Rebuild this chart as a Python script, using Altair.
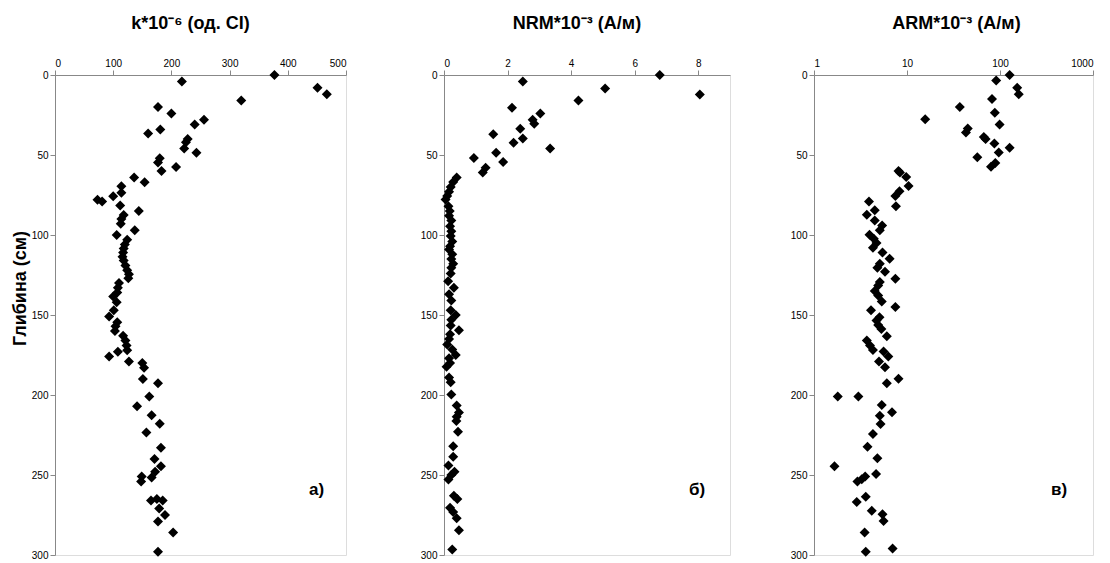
import altair as alt
import pandas as pd

# ---------------- data ----------------
k_depth = [0, 4, 8, 12, 16, 20, 24, 28, 31, 34, 36.5, 40, 42, 46, 48.6, 52, 54.7, 57.5, 60, 64, 67,
           69.5, 73.6, 75.8, 78, 79, 81.5, 85, 87.5, 90, 93, 97, 100, 103, 106, 108.5, 111, 113.6, 116,
           119, 122, 124.5, 127, 130, 133, 136, 138.5, 142, 147, 151, 154.6, 157, 160, 163, 166, 169,
           172, 173, 176, 179, 180, 183, 190, 192.6, 201, 207, 212.7, 218, 223.5, 233, 240, 244.6, 248,
           251.5, 251, 254, 266, 265, 266, 271, 275, 279, 286, 298]
k_value = [377, 218, 451, 467, 320, 177, 200, 256, 240, 181, 160, 228, 225, 222, 243, 180, 177, 208, 183,
           136, 154, 114, 114, 100, 73, 81, 112, 144, 118, 114, 113, 137, 106, 124, 120, 118, 117, 116,
           118, 121, 124, 127, 126, 110, 108, 107, 100, 106, 101, 93, 107, 104, 103, 117, 121, 123, 124,
           108, 93, 127, 150, 153, 151, 177, 162, 141, 166, 180, 157, 182, 171, 182, 172, 166, 149, 148,
           165, 175, 185, 179, 189, 177, 203, 177]

nrm_depth = [0, 4, 8.4, 12.2, 16, 20.5, 24, 28, 30.5, 33.6, 37, 39.7, 42.4, 46, 48.6, 51.8, 54.3, 58, 61,
             64, 66.8, 70, 73, 75.7, 77.8, 82, 85, 88, 91, 94.5, 97.6, 100.7, 104, 107, 109, 112, 115,
             118, 120.5, 124, 128.9, 133, 137, 141, 147, 150, 153, 156.5, 159.5, 162, 165, 168.5, 171.5,
             175, 177, 180, 182.4, 189, 192, 199.7, 206.6, 211, 213.6, 216.3, 223, 232, 238.6, 244, 248,
             250, 252.8, 263, 265, 270.5, 273.2, 277, 284.6, 296.5]
nrm_value = [6.79, 2.48, 5.07, 8.05, 4.23, 2.14, 3.03, 2.79, 2.84, 2.40, 1.55, 2.48, 2.19, 3.34, 1.64,
             0.94, 1.86, 1.31, 1.22, 0.40, 0.29, 0.21, 0.16, 0.10, 0.05, 0.14, 0.18, 0.16, 0.23, 0.19,
             0.23, 0.21, 0.26, 0.19, 0.16, 0.26, 0.23, 0.29, 0.23, 0.21, 0.13, 0.31, 0.16, 0.23, 0.21,
             0.37, 0.23, 0.21, 0.47, 0.19, 0.16, 0.10, 0.26, 0.37, 0.16, 0.19, 0.08, 0.16, 0.21, 0.23,
             0.40, 0.47, 0.40, 0.39, 0.44, 0.29, 0.29, 0.14, 0.33, 0.23, 0.14, 0.31, 0.42, 0.19, 0.29,
             0.40, 0.47, 0.26]

arm_depth = [0, 3.5, 8, 12, 15, 20, 23.6, 27.6, 31, 33.4, 36, 38.8, 40, 42.8, 45.5, 48.4, 51.4, 55, 57.4,
             60, 61, 63.7, 69.3, 72.7, 75.6, 79, 82, 84.6, 87.3, 91, 94, 97, 99.8, 102.3, 105, 108, 111,
             114.8, 118, 120.5, 123, 127.3, 129.4, 131.5, 135, 137.8, 141.5, 145, 147, 151.4, 153.4,
             156.2, 158.7, 163.3, 166, 169.1, 171.8, 172.8, 176, 179.1, 182.6, 189.9, 192.6, 201, 201,
             206.2, 210.8, 212.9, 218.1, 224.4, 232.3, 239.6, 244.6, 249.4, 250.9, 252.6, 254, 263.6,
             266.8, 272.4, 274.5, 278.7, 286, 296, 298]
arm_value = [127, 91, 153, 159, 82, 37, 88, 15.7, 99, 45, 43, 67, 70, 87, 127, 97, 57, 89, 80,
             8.1, 8.4, 9.8, 10.4, 8.3, 7.5, 3.9, 7.6, 4.5, 3.7, 4.5, 5.4, 5.1, 3.95, 4.4, 4.7, 4.3, 5.45,
             6.5, 5.1, 4.8, 5.8, 7.5, 5.1, 4.9, 4.5, 4.9, 5.35, 7.5, 4.1, 5.06, 4.7,
             4.9, 5.3, 6.07, 3.7, 4.0, 4.3, 5.6, 6.3, 5.0, 5.8, 8.1, 6.07, 1.8, 3.0,
             5.35, 6.9, 5.1, 5.2, 4.3, 3.76, 4.8, 1.66, 4.65, 3.55, 3.26, 2.93, 3.6,
             2.88, 4.18, 5.45, 5.6, 3.5, 7.0, 3.6]

titles = ["k*10⁻⁶ (од. СІ)", "NRM*10⁻³ (А/м)", "ARM*10⁻³ (А/м)"]
panel_labels = ["а)", "б)", "в)"]
depth_ticks = [0, 50, 100, 150, 200, 250, 300]
k_ticks = [0, 100, 200, 300, 400, 500]
nrm_ticks = [0, 2, 4, 6, 8]
arm_ticks = [1, 10, 100, 1000]
y_title = "Глибина (см)"

FONT = "Liberation Sans"
H = 480
GRAY = "#8a8a8a"


def panel(depth, value, title, label, xscale, xticks, width, ytitle=None, yextent=25, labx=250, tdx=0):
    df = pd.DataFrame({"depth": depth, "value": value})
    yargs = dict(values=depth_ticks, minExtent=yextent, maxExtent=yextent, grid=False, format="d")
    if ytitle:
        yargs.update(title=ytitle, titleFontSize=18, titleFont=FONT, titleFontWeight="bold",
                     titleColor="black", titleX=-26, titleY=213)
    else:
        yargs.update(title=None)
    pts = alt.Chart(df).mark_point(shape="diamond", filled=True, color="black", opacity=1, size=100).encode(
        x=alt.X("value:Q", scale=xscale,
                axis=alt.Axis(orient="top", values=xticks, title=None, format="d", grid=False)),
        y=alt.Y("depth:Q", scale=alt.Scale(domain=[0, 300], reverse=True, nice=False),
                axis=alt.Axis(**yargs)),
    )
    txt = alt.Chart(pd.DataFrame({"t": [label]})).mark_text(
        font=FONT, fontSize=17, fontWeight="bold", color="black", align="left", baseline="middle"
    ).encode(x=alt.value(labx), y=alt.value(415), text="t:N")
    return alt.layer(pts, txt).properties(
        width=width, height=H,
        title=alt.TitleParams(text=title, font=FONT, fontSize=18, fontWeight="bold", color="black",
                              anchor="middle", offset=25, dx=tdx),
    )


p1 = panel(k_depth, k_value, titles[0], panel_labels[0],
           alt.Scale(domain=[0, 500], nice=False), k_ticks, 291, ytitle=y_title, labx=254, tdx=-10)
p2 = panel(nrm_depth, nrm_value, titles[1], panel_labels[1],
           alt.Scale(domain=[0, 9], nice=False), nrm_ticks, 286, yextent=39, labx=245, tdx=-10)
p3 = panel(arm_depth, arm_value, titles[2], panel_labels[2],
           alt.Scale(type="log", domain=[1, 1000], nice=False), arm_ticks, 279, labx=237, tdx=3)

chart = alt.hconcat(p1, p2, p3, spacing=57).properties(
    padding={"left": 2, "top": 6, "right": 0, "bottom": 0}
).configure_view(stroke=GRAY, strokeWidth=1.5).configure_axis(
    grid=False, domainColor=GRAY, domainWidth=1.5, tickColor=GRAY, tickSize=4,
    labelFont=FONT, labelFontSize=10, labelFontWeight="bold", labelColor="#222222", labelPadding=3,
).configure(background="white")

chart.save("out.html", embed_options={"renderer": "svg", "actions": False})
